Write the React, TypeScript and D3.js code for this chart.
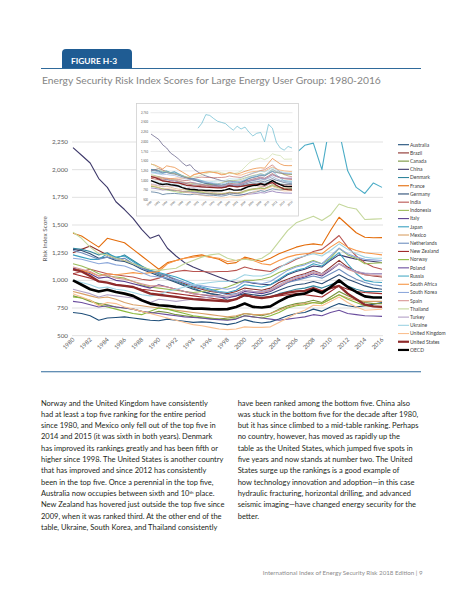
import React, { useEffect, useRef } from 'react';
import * as d3 from 'd3';

const years = [
  1980, 1981, 1982, 1983, 1984, 1985, 1986, 1987, 1988, 1989,
  1990, 1991, 1992, 1993, 1994, 1995, 1996, 1997, 1998, 1999,
  2000, 2001, 2002, 2003, 2004, 2005, 2006, 2007, 2008, 2009,
  2010, 2011, 2012, 2013, 2014, 2015, 2016,
];
const xTickYears = [1980, 1982, 1984, 1986, 1988, 1990, 1992, 1994, 1996, 1998, 2000, 2002, 2004, 2006, 2008, 2010, 2012, 2014, 2016];
const yTicks = [500, 750, 1000, 1250, 1500, 1750, 2000, 2250];
const insetYTicks = [500, 750, 1000, 1250, 1500, 1750, 2000, 2250, 2500, 2750];

const australia = [710, 700, 680, 640, 660, 665, 670, 660, 650, 640, 635, 650, 640, 630, 620, 625, 620, 610, 600, 615, 645, 625, 615, 625, 650, 680, 700, 710, 740, 720, 760, 790, 770, 760, 770, 785, 800];
const brazil = [1250, 1280, 1310, 1270, 1230, 1200, 1180, 1150, 1120, 1080, 1060, 1040, 1000, 970, 940, 920, 900, 890, 880, 900, 930, 920, 910, 930, 980, 1010, 1040, 1060, 1090, 1060, 1120, 1180, 1120, 1080, 1050, 1040, 1030];
const canada = [860, 840, 810, 790, 780, 760, 750, 740, 720, 700, 720, 710, 690, 680, 670, 660, 655, 650, 660, 670, 700, 690, 680, 700, 740, 770, 790, 800, 820, 800, 850, 900, 860, 830, 800, 790, 790];
const china = [2200, 2130, 2060, 1920, 1840, 1710, 1640, 1560, 1460, 1380, 1410, 1290, 1220, 1160, 1120, 1090, 1060, 1030, 1000, 980, 990, 975, 965, 960, 1000, 1050, 1080, 1100, 1130, 1120, 1180, 1230, 1210, 1190, 1180, 1170, 1160];
const denmark = [1290, 1280, 1260, 1230, 1250, 1200, 1230, 1180, 1130, 1090, 1050, 1020, 990, 960, 930, 900, 880, 860, 820, 830, 860, 850, 840, 850, 880, 900, 920, 930, 950, 930, 960, 990, 950, 920, 900, 900, 900];
const france = [1425, 1400, 1350, 1300, 1380, 1360, 1340, 1280, 1220, 1160, 1100, 1160, 1180, 1200, 1220, 1230, 1210, 1190, 1150, 1160, 1210, 1190, 1170, 1200, 1240, 1270, 1300, 1320, 1330, 1320, 1450, 1570, 1500, 1430, 1390, 1385, 1386];
const germany = [1280, 1270, 1240, 1200, 1210, 1180, 1170, 1140, 1100, 1070, 1040, 1010, 980, 950, 920, 900, 880, 870, 850, 860, 880, 870, 860, 880, 910, 940, 960, 970, 990, 970, 1010, 1050, 1010, 980, 950, 930, 920];
const india = [1060, 1080, 1100, 1080, 1060, 1050, 1040, 1030, 1010, 1000, 1020, 1060, 1080, 1090, 1080, 1080, 1075, 1080, 1080, 1090, 1120, 1100, 1090, 1080, 1120, 1150, 1190, 1220, 1260, 1280, 1340, 1405, 1300, 1220, 1160, 1120, 1100];
const indonesia = [1150, 1130, 1100, 1060, 1040, 1030, 1020, 990, 960, 940, 930, 920, 910, 900, 890, 900, 910, 920, 940, 970, 1000, 1000, 1010, 1030, 1070, 1100, 1130, 1150, 1180, 1150, 1200, 1290, 1230, 1200, 1150, 1155, 1160];
const italy = [1110, 1090, 1060, 1020, 1030, 1000, 990, 970, 950, 930, 960, 940, 920, 900, 880, 870, 860, 850, 840, 860, 900, 890, 880, 900, 940, 980, 1010, 1030, 1060, 1040, 1090, 1150, 1110, 1080, 1060, 1060, 1060];
const japan = [1230, 1210, 1190, 1190, 1240, 1210, 1220, 1170, 1120, 1090, 1070, 1050, 1030, 1000, 970, 940, 920, 900, 890, 910, 960, 950, 940, 960, 1010, 1060, 1090, 1110, 1150, 1130, 1190, 1250, 1150, 1060, 1000, 985, 980];
const mexico = [900, 880, 860, 840, 850, 830, 800, 780, 770, 760, 750, 740, 730, 720, 710, 700, 690, 680, 670, 680, 700, 690, 690, 700, 730, 760, 780, 790, 800, 790, 830, 870, 840, 820, 810, 810, 810];
const netherlands = [1270, 1250, 1220, 1190, 1210, 1190, 1200, 1150, 1110, 1080, 1060, 1040, 1010, 980, 950, 930, 910, 890, 870, 880, 910, 900, 890, 910, 950, 980, 1000, 1020, 1040, 1020, 1060, 1100, 1050, 1010, 980, 960, 950];
const newZealand = [1060, 1040, 1020, 990, 980, 960, 950, 940, 920, 910, 900, 890, 880, 870, 860, 850, 840, 830, 820, 830, 860, 850, 845, 850, 860, 870, 880, 870, 860, 850, 900, 950, 920, 900, 890, 885, 880];
const norway = [850, 840, 820, 780, 760, 740, 720, 700, 690, 720, 750, 740, 720, 700, 680, 670, 660, 650, 645, 655, 680, 670, 660, 680, 710, 750, 770, 780, 800, 790, 830, 870, 830, 800, 770, 765, 760];
const poland = [810, 800, 780, 760, 770, 760, 750, 740, 720, 710, 700, 690, 680, 670, 665, 660, 650, 645, 640, 650, 680, 670, 660, 650, 640, 650, 660, 670, 690, 680, 710, 730, 700, 690, 680, 678, 675];
const russia = [null, null, null, null, null, null, null, null, null, null, null, null, 2350, 2480, 2700, 2680, 2600, 2530, 2500, 2470, 2380, 2300, 2400, 2330, 2380, 2250, 2150, 2220, 2240, 2000, 2450, 2350, 1990, 1840, 1785, 1880, 1840];
const southAfrica = [1100, 1090, 1070, 1040, 1060, 1050, 1060, 1070, 1060, 1070, 1080, 1150, 1180, 1200, 1210, 1220, 1210, 1200, 1170, 1180, 1200, 1180, 1150, 1140, 1180, 1210, 1230, 1240, 1250, 1240, 1300, 1350, 1300, 1270, 1250, 1240, 1230];
const southKorea = [1200, 1190, 1170, 1150, 1160, 1140, 1130, 1100, 1070, 1040, 1030, 1020, 1000, 980, 960, 950, 940, 930, 920, 940, 990, 980, 970, 990, 1040, 1090, 1120, 1140, 1170, 1150, 1220, 1290, 1240, 1210, 1190, 1185, 1180];
const spain = [1120, 1100, 1080, 1040, 1050, 1020, 1010, 990, 970, 950, 950, 940, 920, 900, 880, 870, 865, 860, 855, 870, 910, 900, 890, 910, 950, 990, 1020, 1040, 1070, 1050, 1100, 1150, 1100, 1070, 1050, 1045, 1040];
const thailand = [1435, 1380, 1300, 1240, 1230, 1200, 1180, 1150, 1120, 1100, 1090, 1100, 1110, 1150, 1180, 1210, 1230, 1240, 1200, 1180, 1190, 1180, 1200, 1250, 1350, 1450, 1520, 1550, 1580, 1540, 1590, 1690, 1660, 1645, 1550, 1553, 1556];
const turkey = [920, 900, 880, 850, 870, 860, 850, 840, 820, 800, 830, 820, 810, 820, 830, 840, 850, 860, 850, 870, 910, 900, 900, 920, 960, 1000, 1030, 1050, 1080, 1060, 1100, 1150, 1110, 1080, 1065, 1060, 1060];
const ukraine = [1000, 980, 960, 930, 940, 920, 910, 890, 870, 860, 870, 900, 920, 940, 960, 970, 980, 990, 990, 1010, 1050, 1040, 1040, 1060, 1110, 1160, 1200, 1220, 1240, 1220, 1270, 1330, 1280, 1240, 1210, 1200, 1200];
const unitedKingdom = [880, 850, 820, 770, 800, 790, 760, 740, 720, 700, 680, 660, 640, 620, 600, 590, 575, 560, 555, 560, 580, 575, 575, 580, 620, 660, 700, 730, 775, 770, 810, 850, 800, 760, 730, 735, 740];
const unitedStates = [1100, 1080, 1040, 990, 980, 960, 950, 940, 910, 880, 870, 860, 850, 840, 830, 825, 820, 815, 810, 830, 870, 850, 840, 850, 870, 890, 900, 905, 930, 900, 930, 950, 880, 830, 780, 765, 760];
const oecd = [1000, 960, 920, 900, 915, 895, 880, 860, 820, 790, 775, 770, 760, 755, 745, 745, 740, 738, 740, 760, 790, 760, 755, 765, 810, 850, 870, 880, 915, 885, 940, 1000, 940, 895, 855, 845, 845];

const seriesNames = ['Australia', 'Brazil', 'Canada', 'China', 'Denmark', 'France', 'Germany', 'India', 'Indonesia', 'Italy', 'Japan', 'Mexico', 'Netherlands', 'New Zealand', 'Norway', 'Poland', 'Russia', 'South Africa', 'South Korea', 'Spain', 'Thailand', 'Turkey', 'Ukraine', 'United Kingdom', 'United States', 'OECD'];
const seriesValues = [australia, brazil, canada, china, denmark, france, germany, india, indonesia, italy, japan, mexico, netherlands, newZealand, norway, poland, russia, southAfrica, southKorea, spain, thailand, turkey, ukraine, unitedKingdom, unitedStates, oecd];
const seriesColors = ['#1F4E79', '#8B2F2B', '#77933C', '#3F3A6B', '#31859C', '#E46C0A', '#2C4D75', '#B85450', '#9BBB59', '#5B3F8F', '#3AA0C0', '#D9A066', '#6F8FBF', '#A02B2B', '#8AB83C', '#6B4E9E', '#4BACC6', '#F79646', '#8EA9DB', '#D99694', '#C4D79B', '#B3A2C7', '#9DD3E3', '#FAC090', '#8E2A2A', '#000000'];

const leftColumn = [
  'Norway and the United Kingdom have consistently',
  'had at least a top five ranking for the entire period',
  'since 1980, and Mexico only fell out of the top five in',
  '2014 and 2015 (it was sixth in both years). Denmark',
  'has improved its rankings greatly and has been fifth or',
  'higher since 1998. The United States is another country',
  'that has improved and since 2012 has consistently',
  'been in the top five. Once a perennial in the top five,',
  'Australia now occupies between sixth and 10|th| place.',
  'New Zealand has hovered just outside the top five since',
  '2009, when it was ranked third. At the other end of the',
  'table, Ukraine, South Korea, and Thailand consistently',
];
const rightColumn = [
  'have been ranked among the bottom five. China also',
  'was stuck in the bottom five for the decade after 1980,',
  'but it has since climbed to a mid-table ranking. Perhaps',
  'no country, however, has moved as rapidly up the',
  'table as the United States, which jumped five spots in',
  'five years and now stands at number two. The United',
  'States surge up the rankings is a good example of',
  'how technology innovation and adoption\u2014in this case',
  'hydraulic fracturing, horizontal drilling, and advanced',
  'seismic imaging\u2014have changed energy security for the',
  'better.',
];

const FONT = 'Lato, "Open Sans", sans-serif';

const App: React.FC = () => {
  const svgRef = useRef<SVGSVGElement>(null);

  useEffect(() => {
    if (!svgRef.current) return;
    const width = 463;
    const height = 599;

    const svg = d3.select(svgRef.current)
      .attr('width', width)
      .attr('height', height)
      .attr('viewBox', `0 0 ${width} ${height}`)
      .style('font-family', FONT)
      .html('');

    svg.append('rect').attr('width', width).attr('height', height).attr('fill', '#fff');

    const series = seriesNames.map((name, i) => ({
      name,
      color: seriesColors[i],
      width: name === 'OECD' ? 2.4 : name === 'United States' ? 2.1 : 1,
      values: seriesValues[i].map((v, j) => ({ year: years[j], value: v as number | null })),
    }));

    // Figure tab + rule + title
    svg.append('path')
      .attr('d', 'M62,68.5 L62,53 Q62,49 66,49 L128,49 Q132,49 132,53 L132,68.5 Z')
      .attr('fill', '#1F5C93');
    svg.append('text')
      .attr('x', 71).attr('y', 64)
      .attr('fill', '#fff').attr('font-size', 8.4).attr('font-weight', 700)
      .text('FIGURE H-3');
    svg.append('line')
      .attr('x1', 41).attr('x2', 421).attr('y1', 68.5).attr('y2', 68.5)
      .attr('stroke', '#2F6A9B').attr('stroke-width', 1.1);
    svg.append('text')
      .attr('x', 42).attr('y', 84)
      .attr('fill', '#858585').attr('font-size', 10.3)
      .text('Energy Security Risk Index Scores for Large Energy User Group: 1980-2016');

    // Main chart
    const x = d3.scaleLinear().domain([1980, 2016]).range([73, 382]);
    const y = d3.scaleLinear().domain([500, 2250]).range([335.7, 142]);

    const main = svg.append('g');
    main.append('defs').append('clipPath').attr('id', 'plotClip')
      .append('rect').attr('x', 60).attr('y', 142).attr('width', 340).attr('height', 194);

    main.append('g').selectAll('line').data(yTicks).join('line')
      .attr('x1', 72).attr('x2', 383)
      .attr('y1', d => y(d)).attr('y2', d => y(d))
      .attr('stroke', '#D9D9D9').attr('stroke-width', 0.8);

    main.append('g').selectAll('text').data(yTicks).join('text')
      .attr('x', 68).attr('y', d => y(d) + 2)
      .attr('text-anchor', 'end').attr('font-size', 6.3).attr('fill', '#595959')
      .text(d => d3.format(',')(d));

    main.append('g').selectAll('text').data(xTickYears).join('text')
      .attr('transform', d => `translate(${x(d) + 2},${340}) rotate(-45)`)
      .attr('text-anchor', 'end').attr('font-size', 6).attr('fill', '#595959')
      .text(d => String(d));

    main.append('text')
      .attr('transform', `translate(47,${(142 + 335.7) / 2}) rotate(-90)`)
      .attr('text-anchor', 'middle').attr('font-size', 6.3).attr('fill', '#595959')
      .text('Risk Index Score');

    const line = d3.line<{ year: number; value: number | null }>()
      .defined(d => d.value != null)
      .x(d => x(d.year))
      .y(d => y(d.value as number));

    main.append('g').attr('clip-path', 'url(#plotClip)')
      .selectAll('path').data(series).join('path')
      .attr('fill', 'none')
      .attr('stroke', d => d.color)
      .attr('stroke-width', d => d.width * 1.1)
      .attr('stroke-linejoin', 'round')
      .attr('d', d => line(d.values));

    // Legend
    const legend = svg.append('g');
    const legendItem = legend.selectAll('g').data(series).join('g')
      .attr('transform', (_d, i) => `translate(398,${144.7 + i * 8.21})`);
    legendItem.append('line')
      .attr('x1', 0).attr('x2', 11)
      .attr('stroke', d => d.color)
      .attr('stroke-width', d => (d.width > 1 ? 2.2 : 1.1));
    legendItem.append('text')
      .attr('x', 12).attr('y', 1.8)
      .attr('font-size', 5).attr('fill', '#404040')
      .text(d => d.name);

    // Inset chart
    const inset = svg.append('g');
    inset.append('rect')
      .attr('x', 136.5).attr('y', 103.5).attr('width', 162).attr('height', 112.5)
      .attr('fill', '#fff').attr('stroke', '#D0D0D0').attr('stroke-width', 0.8);

    const xi = d3.scaleLinear().domain([1980, 2016]).range([151, 292]);
    const yi = d3.scaleLinear().domain([500, 2750]).range([200, 112.7]);

    inset.append('g').selectAll('line').data(insetYTicks).join('line')
      .attr('x1', 150.5).attr('x2', 292.5)
      .attr('y1', d => yi(d)).attr('y2', d => yi(d))
      .attr('stroke', '#D9D9D9').attr('stroke-width', 0.5);
    inset.append('g').selectAll('text').data(insetYTicks).join('text')
      .attr('x', 148).attr('y', d => yi(d) + 1)
      .attr('text-anchor', 'end').attr('font-size', 2.8).attr('fill', '#595959')
      .text(d => d3.format(',')(d));
    inset.append('g').selectAll('text').data(xTickYears).join('text')
      .attr('transform', d => `translate(${xi(d) + 1},${202}) rotate(-45)`)
      .attr('text-anchor', 'end').attr('font-size', 2.8).attr('fill', '#595959')
      .text(d => String(d));

    const insetLine = d3.line<{ year: number; value: number | null }>()
      .defined(d => d.value != null)
      .x(d => xi(d.year))
      .y(d => yi(d.value as number));

    inset.append('g').selectAll('path').data(series).join('path')
      .attr('fill', 'none')
      .attr('stroke', d => d.color)
      .attr('stroke-width', d => d.width * 0.6)
      .attr('stroke-linejoin', 'round')
      .attr('d', d => insetLine(d.values));

    // Lower rule
    svg.append('line')
      .attr('x1', 41).attr('x2', 421).attr('y1', 371.7).attr('y2', 371.7)
      .attr('stroke', '#2F6A9B').attr('stroke-width', 1.1);

    // Body text
    const writeColumn = (lines: string[], x0: number) => {
      const g = svg.append('g').attr('font-size', 7.5).attr('fill', '#231F20');
      lines.forEach((ln, i) => {
        const t = g.append('text').attr('x', x0).attr('y', 405.5 + i * 11.33);
        const parts = ln.split('|');
        parts.forEach((p, k) => {
          const ts = t.append('tspan').text(p);
          if (k === 1) ts.attr('font-size', 4.5).attr('baseline-shift', 'super');
        });
      });
    };
    writeColumn(leftColumn, 41);
    writeColumn(rightColumn, 237.7);

    svg.append('text')
      .attr('x', 422.5).attr('y', 575)
      .attr('text-anchor', 'end').attr('font-size', 6.2).attr('fill', '#8C8C8C')
      .text('International Index of Energy Security Risk 2018 Edition | 9');
  }, []);

  return <svg ref={svgRef} style={{ position: 'absolute', left: 0, top: 0, display: 'block' }} />;
};

export default App;
